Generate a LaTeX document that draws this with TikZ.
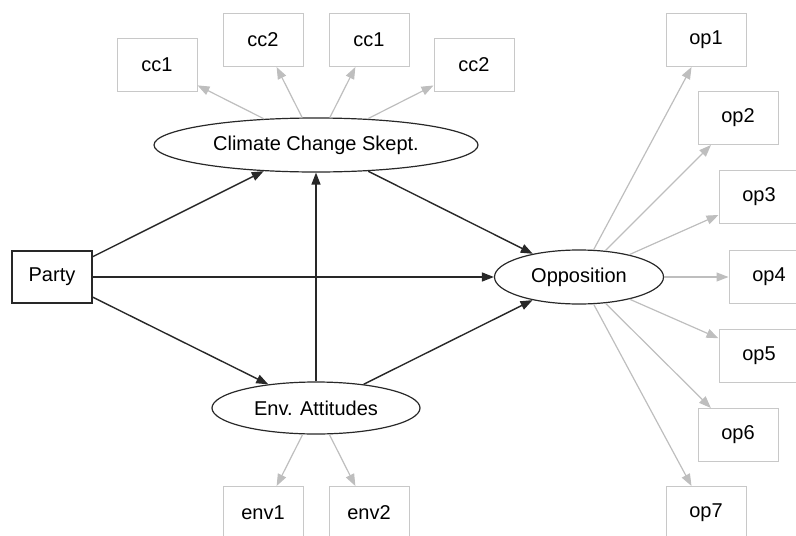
\documentclass[tikz,border=0pt]{standalone}
\usepackage{fontspec}
\setmainfont{Liberation Sans}
\usetikzlibrary{shapes.geometric,arrows.meta}
\definecolor{lgray}{RGB}{190,190,190}
\definecolor{bgray}{RGB}{200,200,200}
\definecolor{dk}{RGB}{40,40,40}
\begin{document}
\begin{tikzpicture}[x=1pt,y=-1pt,
  font=\fontsize{20}{24}\selectfont,
  ind/.style={draw=bgray,line width=1pt,rectangle,minimum width=80pt,minimum height=53pt,inner sep=0pt},
  obs/.style={draw=dk,line width=1.2pt,rectangle,minimum width=80pt,minimum height=52pt,inner sep=0pt},
  lat/.style={draw=dk,line width=1.2pt,ellipse,inner sep=0pt},
  path/.style={draw=dk,line width=1.4pt,-{Triangle[length=12pt,width=9pt]}},
  load/.style={draw=lgray,line width=1.2pt,-{Triangle[length=12pt,width=9pt]}}]
\useasboundingbox (0,0) rectangle (796,536);
% latent and observed
\node[lat,minimum width=324pt,minimum height=54pt] (ccs) at (316,145) {Climate Change Skept.};
\node[lat,minimum width=208pt,minimum height=52pt] (env) at (316,408) {Env. Attitudes};
\node[lat,minimum width=169pt,minimum height=54pt] (opp) at (579,277) {Opposition};
\node[obs] (party) at (52,277) {Party};
% indicators
\node[ind] (cca) at (157,65) {cc1};
\node[ind] (ccb) at (263,40) {cc2};
\node[ind] (ccc) at (369,40) {cc1};
\node[ind] (ccd) at (474,65) {cc2};
\node[ind] (enva) at (263,513) {env1};
\node[ind] (envb) at (369,513) {env2};
\node[ind] (op1) at (706,40) {op1};
\node[ind] (op2) at (738,118) {op2};
\node[ind] (op3) at (759,197) {op3};
\node[ind] (op4) at (769,277) {op4};
\node[ind] (op5) at (759,356) {op5};
\node[ind] (op6) at (738,435) {op6};
\node[ind] (op7) at (706,513) {op7};
% loadings
\foreach \t in {cca,ccb,ccc,ccd} \draw[load] (ccs) -- (\t);
\foreach \t in {enva,envb} \draw[load] (env) -- (\t);
\foreach \t in {op1,op2,op3,op4,op5,op6,op7} \draw[load] (opp) -- (\t);
% structural paths
\draw[path] (party) -- (ccs);
\draw[path] (party) -- (opp);
\draw[path] (party) -- (env);
\draw[path] (env) -- (ccs);
\draw[path] (ccs) -- (opp);
\draw[path] (env) -- (opp);
\end{tikzpicture}
\end{document}
